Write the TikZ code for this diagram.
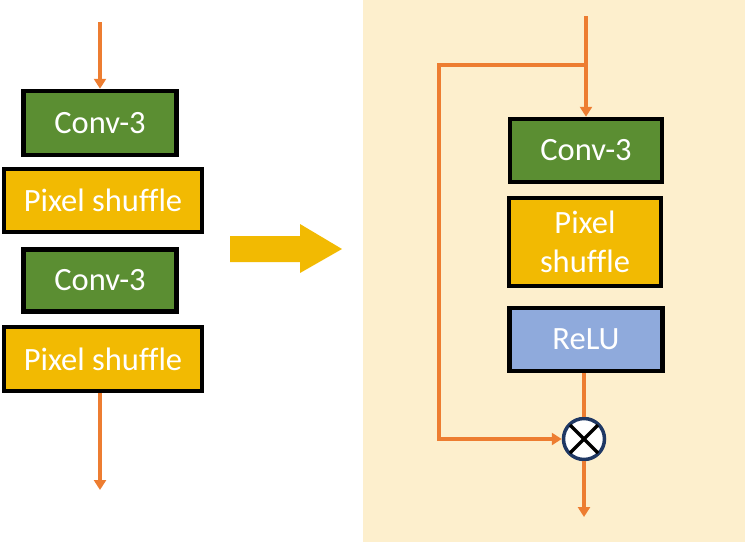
\documentclass[tikz,border=0pt]{standalone}
\usepackage{fontspec}
\setmainfont[Ligatures=NoCommon]{Carlito}
\usetikzlibrary{arrows.meta,positioning,calc}
\definecolor{cgreen}{HTML}{5B8E32}
\definecolor{cyellow}{HTML}{F2BA02}
\definecolor{cblue}{HTML}{8FAADC}
\definecolor{corange}{HTML}{ED7D31}
\definecolor{cbg}{HTML}{FDEFCD}
\definecolor{cnavy}{HTML}{1F3864}
\tikzset{
  blk/.style={draw=black, line width=4.5pt, text=white, inner sep=0pt, align=center,
    font=\fontsize{32.5}{39}\selectfont},
  convbox/.style={blk, fill=cgreen},
  psbox/.style={blk, fill=cyellow},
  relubox/.style={blk, fill=cblue},
  flow/.style={draw=corange, line width=3.5pt},
  arr/.style={flow, -{Triangle[width=12pt,length=10pt]}},
}
\begin{document}
\begin{tikzpicture}[x=1pt,y=-1pt]
\useasboundingbox (0,0) rectangle (745,542);
\fill[cbg] (363,0) rectangle (745,542);

% left column
\node[convbox, minimum width=153pt, minimum height=64pt] (c1) at (100,123) {Conv-3};
\node[psbox, minimum width=198pt, minimum height=63pt] (p1) at (103,200.5) {Pixel shuffle};
\node[convbox, minimum width=153pt, minimum height=62pt] (c2) at (100,280.5) {Conv-3};
\node[psbox, minimum width=198pt, minimum height=64pt] (p2) at (103,359) {Pixel shuffle};
\coordinate (lin) at (100,22);
\coordinate (lout) at (100,490);
\draw[arr] (lin) -- (lin |- c1.north);
\draw[arr] (lin |- p2.south) -- (lout);

% big arrow
\fill[cyellow] (230,236) -- (300,236) -- (300,224) -- (342,249) -- (300,273) -- (300,262) -- (230,262) -- cycle;

% right column
\node[convbox, minimum width=152pt, minimum height=63pt] (c3) at (586,150.5) {Conv-3};
\node[psbox, minimum width=152pt, minimum height=88pt] (p3) at (585,242) {Pixel\\shuffle};
\node[relubox, minimum width=153pt, minimum height=63pt] (r) at (586,339.5) {ReLU};
\node[draw=cnavy, fill=white, line width=3.5pt, circle, minimum size=41pt, inner sep=0pt] (m) at (584,439) {};
\draw[black, line width=3.5pt] ($(m.center)+(-14,-14)$) -- ($(m.center)+(14,14)$);
\draw[black, line width=3.5pt] ($(m.center)+(-14,14)$) -- ($(m.center)+(14,-14)$);

\coordinate (rin) at (586,16);
\coordinate (junc) at (586,65);
\coordinate (lc) at (439,65);
\coordinate (rout) at (584,517);
\draw[arr] (rin) -- (rin |- c3.north);
\draw[flow, -{Triangle[width=12pt,length=10pt]}] (junc) -- (lc) -- (lc |- m) -- (m.west);
\draw[flow] (m.north |- r.south) -- (m.north);
\draw[arr] (m.south) -- (rout);
\end{tikzpicture}
\end{document}
